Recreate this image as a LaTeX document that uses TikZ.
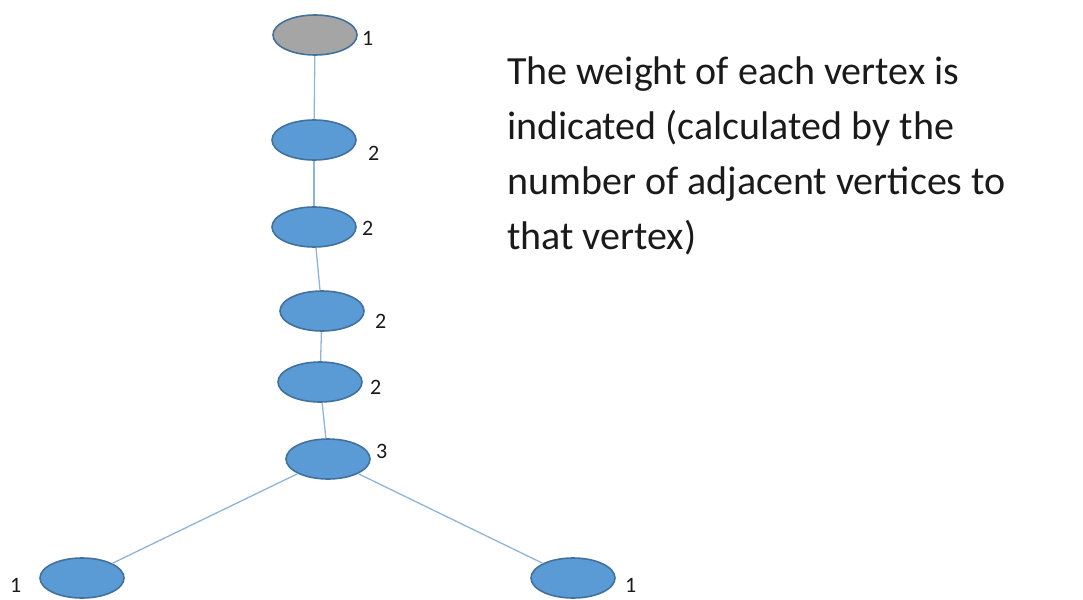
\documentclass[tikz,border=0pt]{standalone}
\usepackage{fontspec}
\setmainfont{Carlito}
\usetikzlibrary{shapes.geometric}
\definecolor{vfill}{HTML}{5B9BD5}
\definecolor{vdraw}{HTML}{41719C}
\definecolor{gfill}{HTML}{A5A5A5}
\definecolor{edgec}{HTML}{8FB4D9}
\definecolor{txt}{HTML}{1A1A1A}
\tikzset{
  vert/.style={ellipse, draw=vdraw, fill=vfill, line width=1.6pt, minimum width=84pt, minimum height=40pt, inner sep=0pt},
  root/.style={vert, fill=gfill},
  wlab/.style={font=\fontsize{22}{22}\selectfont, text=txt, inner sep=0pt, anchor=base west},
  edge/.style={draw=edgec, line width=1.3pt},
}
\begin{document}
\begin{tikzpicture}[x=1pt,y=-1pt]
\useasboundingbox (0,0) rectangle (1083,599);
\node[root] (v1) at (315,35) {};
\node[vert] (v2) at (314,140) {};
\node[vert] (v3) at (314,227) {};
\node[vert] (v4) at (322,311) {};
\node[vert] (v5) at (320,382) {};
\node[vert] (v6) at (328,459) {};
\node[vert] (v7) at (82,578) {};
\node[vert] (v8) at (573,578) {};
\draw[edge] (v1) -- (v2);
\draw[edge] (v2) -- (v3);
\draw[edge] (v3) -- (v4);
\draw[edge] (v4) -- (v5);
\draw[edge] (v5) -- (v6);
\draw[edge] (v6) -- (v7);
\draw[edge] (v6) -- (v8);
\node[wlab] (l1) at (362,46) {1};
\node[wlab] (l2) at (368,160) {2};
\node[wlab] (l3) at (362,235) {2};
\node[wlab] (l4) at (375,328) {2};
\node[wlab] (l5) at (370,394) {2};
\node[wlab] (l6) at (376,458) {3};
\node[wlab] (l7) at (10,592) {1};
\node[wlab] (l8) at (625,592) {1};
\node[anchor=north west, align=left, inner sep=0pt, text=txt, font=\fontsize{40}{55}\selectfont] (desc) at (507,57)
  {The weight of each vertex is\\indicated (calculated by the\\number of adjacent vertices to\\that vertex)};
\end{tikzpicture}
\end{document}
